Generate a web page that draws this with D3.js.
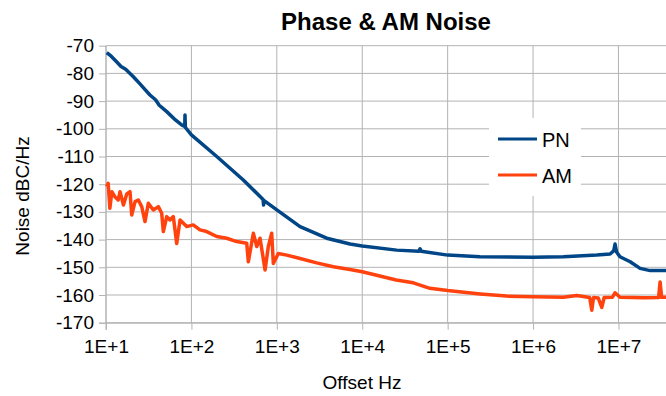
<!DOCTYPE html>
<html>
<head>
<meta charset="utf-8">
<script src="https://cdn.jsdelivr.net/npm/d3@7"></script>
<style>
  body { margin: 0; background: #fff; }
  svg { display: block; font-family: "Liberation Sans", Arial, sans-serif; }
  .grid line { stroke: #b3b3b3; stroke-width: 1; }
  .axis path, .axis line { stroke: #b3b3b3; }
  .axis text { fill: #000; font-size: 19px; }
</style>
</head>
<body>
<svg id="chart" width="666" height="396"></svg>
<script>
// tick labels
const xTicks = [1e1, 1e2, 1e3, 1e4, 1e5, 1e6, 1e7];
const xTickLabels = ["1E+1", "1E+2", "1E+3", "1E+4", "1E+5", "1E+6", "1E+7"];
const yTicks = [-70, -80, -90, -100, -110, -120, -130, -140, -150, -160, -170];

// phase noise (PN), offset Hz / dBc/Hz
const pnFreq = [10.2, 11.5, 13.3, 15, 17, 20.9, 25, 28, 32.7, 38, 42, 51.4, 65, 76.9, 83.5, 84.1, 85,
  86.5, 100, 198, 405, 690, 700, 710, 1000, 1870, 3837, 7190, 1e4, 2.53e4, 4.6e4, 4.75e4, 4.9e4,
  1e5, 2.39e5, 1e6, 2.26e6, 5.57e6, 7.98e6, 8.8e6, 9.12e6, 9.5e6, 1.04e7, 1.37e7, 1.79e7, 2.35e7, 3.6e7];
const pnDb = [-72.5, -73.8, -75.8, -77.5, -78.5, -81.2, -83.8, -85.5, -87.8, -89.5, -91.5, -93.8, -96.8,
  -98.6, -99.2, -95, -99.5, -99.8, -102.2, -110, -118.5, -125.5, -127.5, -125.9, -129.3, -135.3, -139.5,
  -141.6, -142.3, -143.8, -144.2, -143.3, -144.2, -145.6, -146.2, -146.4, -146.2, -145.6, -145.2, -144,
  -141.6, -144.5, -146.2, -148, -150.4, -151.2, -151.2];

// AM noise
const amFreq = [10.2, 10.6, 11.1, 11.7, 12.7, 13.9, 14.6, 16, 17.5, 19.1, 20, 21.9, 23.9, 26.2, 28.6,
  31.3, 35.8, 41, 44.9, 46.9, 51.4, 56.1, 61.4, 67.3, 73.6, 88.1, 105, 126, 151, 198, 259, 339, 444,
  464, 531, 582, 636, 728, 795, 871, 910, 1042, 1306, 1870, 2930, 4590, 7190, 1e4, 2.5e4, 3.96e4,
  6.2e4, 1e5, 2.4e5, 4.9e5, 1e6, 2.26e6, 3.24e6, 4.6e6, 4.87e6, 5.1e6, 5.8e6, 6.37e6, 6.8e6, 8.5e6,
  9.1e6, 1.04e7, 2e7, 2.95e7, 3.07e7, 3.2e7, 3.6e7];
const amDb = [-120.9, -119.7, -128.7, -122.7, -124.5, -125.7, -122.7, -127.5, -123.5, -122.7, -131.1,
  -126.3, -125.7, -128.1, -133.5, -126.9, -129.3, -128.1, -130.5, -137.1, -131.7, -132.9, -131.7, -141.4,
  -132.9, -135.3, -134.7, -136.5, -137.1, -138.9, -139.5, -140.7, -141.3, -148, -137.7, -142.5, -139.5,
  -151, -142.5, -137.7, -148.6, -145, -145.6, -146.8, -148.4, -149.8, -150.8, -151.6, -154.6, -155.6,
  -157.6, -158.4, -159.6, -160.4, -160.6, -160.8, -160.2, -160.9, -165.5, -160.9, -161.1, -164.5, -160.9,
  -160.8, -159.2, -160.8, -161, -160.9, -155.3, -160.8, -160.8];

const series = [
  { name: "PN", color: "#004586", freq: pnFreq, db: pnDb },
  { name: "AM", color: "#ff420e", freq: amFreq, db: amDb },
];

const svg = d3.select("#chart");
const x = d3.scaleLog().domain([10, 3.6e7]).range([106, 666]);
const y = d3.scaleLinear().domain([-170, -70]).range([322.7, 45.7]);

// grid
const grid = svg.append("g").attr("class", "grid");
grid.selectAll(".hy").data(yTicks).join("line")
  .attr("x1", 106).attr("x2", 666)
  .attr("y1", (d) => y(d)).attr("y2", (d) => y(d));
grid.selectAll(".vx").data(xTicks).join("line")
  .attr("x1", (d) => x(d)).attr("x2", (d) => x(d))
  .attr("y1", 45.7).attr("y2", 322.7);

// axes
svg.append("g").attr("class", "axis")
  .attr("transform", "translate(106,0)")
  .call(d3.axisLeft(y).tickValues(yTicks).tickSize(7).tickPadding(5).tickFormat((d) => d))
  .call((g) => g.select(".domain").remove());
svg.append("line").attr("x1", 106).attr("x2", 106).attr("y1", 45.7).attr("y2", 330)
  .attr("stroke", "#b3b3b3");

svg.append("g").attr("class", "axis")
  .attr("transform", "translate(0,322.7)")
  .call(d3.axisBottom(x).tickValues(xTicks).tickSize(7).tickPadding(10)
    .tickFormat((d, i) => xTickLabels[i]))
  .call((g) => g.select(".domain").attr("d", "M99,0.5H666"));

// lines
const line = d3.line()
  .x((d) => x(d[0]))
  .y((d) => y(d[1]));

svg.append("g").selectAll("path").data(series).join("path")
  .attr("fill", "none")
  .attr("stroke", (s) => s.color)
  .attr("stroke-width", 3.5)
  .attr("stroke-linejoin", "round")
  .attr("d", (s) => line(s.freq.map((f, i) => [f, s.db[i]])));

// legend
const legend = svg.append("g");
legend.append("rect").attr("x", 489).attr("y", 118).attr("width", 92).attr("height", 78)
  .attr("fill", "#fff");
series.forEach((s, i) => {
  const ly = 139 + i * 36;
  legend.append("line").attr("x1", 498).attr("x2", 537).attr("y1", ly).attr("y2", ly)
    .attr("stroke", s.color).attr("stroke-width", 3);
  legend.append("text").attr("x", 542).attr("y", ly + 7.5)
    .attr("font-size", 20).text(s.name);
});

// titles
svg.append("text").attr("x", 386).attr("y", 30).attr("text-anchor", "middle")
  .attr("font-size", 24).attr("font-weight", "bold").text("Phase & AM Noise");
svg.append("text").attr("x", 362).attr("y", 389).attr("text-anchor", "middle")
  .attr("font-size", 19).text("Offset Hz");
svg.append("text").attr("transform", "translate(29,196) rotate(-90)")
  .attr("text-anchor", "middle").attr("font-size", 19).text("Noise dBC/Hz");
</script>
</body>
</html>
